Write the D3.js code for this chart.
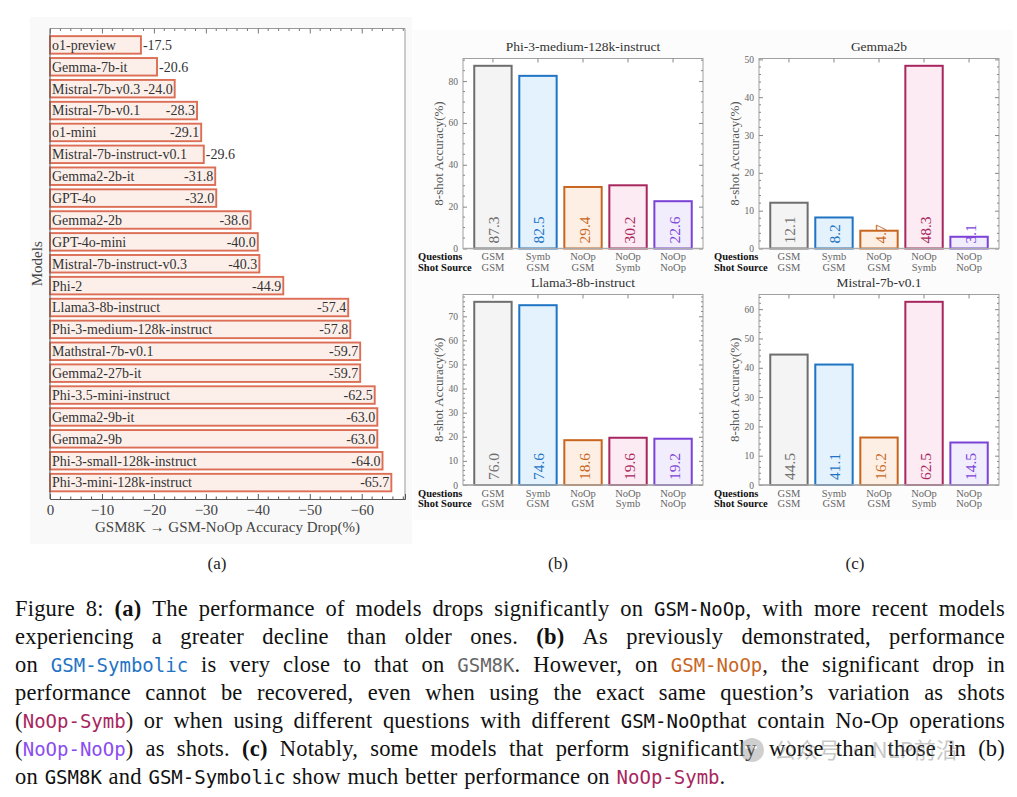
<!DOCTYPE html>
<html><head><meta charset="utf-8">
<script src="https://cdn.jsdelivr.net/npm/d3@7"></script>
<style>body{margin:0;background:#fff}svg{display:block}text{white-space:pre}</style>
</head><body>
<svg id="c" width="1017" height="797"></svg>
<script>
// ---------- DATA ----------
const models = ["o1-preview","Gemma-7b-it","Mistral-7b-v0.3","Mistral-7b-v0.1","o1-mini","Mistral-7b-instruct-v0.1","Gemma2-2b-it","GPT-4o","Gemma2-2b","GPT-4o-mini","Mistral-7b-instruct-v0.3","Phi-2","Llama3-8b-instruct","Phi-3-medium-128k-instruct","Mathstral-7b-v0.1","Gemma2-27b-it","Phi-3.5-mini-instruct","Gemma2-9b-it","Gemma2-9b","Phi-3-small-128k-instruct","Phi-3-mini-128k-instruct"];
const drops = [-17.5,-20.6,-24.0,-28.3,-29.1,-29.6,-31.8,-32.0,-38.6,-40.0,-40.3,-44.9,-57.4,-57.8,-59.7,-59.7,-62.5,-63.0,-63.0,-64.0,-65.7];
const dropTicks = [0,-10,-20,-30,-40,-50,-60];

const questions = ["GSM","Symb","NoOp","NoOp","NoOp"];
const shotSource = ["GSM","GSM","GSM","Symb","NoOp"];
const subplotTitles = ["Phi-3-medium-128k-instruct","Gemma2b","Llama3-8b-instruct","Mistral-7b-v0.1"];
const phi3Acc = [87.3,82.5,29.4,30.2,22.6];
const gemma2bAcc = [12.1,8.2,4.7,48.3,3.1];
const llama3Acc = [76.0,74.6,18.6,19.6,19.2];
const mistralAcc = [44.5,41.1,16.2,62.5,14.5];
const phi3Ticks = [0,20,40,60,80];
const gemma2bTicks = [0,10,20,30,40,50];
const llama3Ticks = [0,10,20,30,40,50,60,70];
const mistralTicks = [0,10,20,30,40,50,60];

// ---------- STYLE ----------
const SERIF = "'Liberation Serif','Times New Roman',serif";
const MONO = "'DejaVu Sans Mono',monospace";
const barStroke = ["#6e6e6e","#1f74c4","#c8661f","#a8265e","#7b42d8"];
const barFill = ["#f4f4f4","#e3f2fd","#fdefe3","#fdebf3","#f1edfd"];

const svg = d3.select('#c');
const bgLayer = svg.append('g');

// ---------- PANEL (a) ----------
const A = {left:50, right:405, top:28.5, bottom:499};
bgLayer.append('rect').attr('x',30).attr('y',17).attr('width',382).attr('height',527).attr('fill','#f9f9f9');
bgLayer.append('rect').attr('x',A.left).attr('y',A.top).attr('width',A.right-A.left).attr('height',A.bottom-A.top).attr('fill','#fff');

const xA = d3.scaleLinear().domain([0, d3.min(drops)*1.04]).range([A.left, A.right]);
const yA = d3.scaleBand().domain(models).range([A.top, A.bottom]).paddingInner(0.2).paddingOuter(0.35);

const gA = svg.append('g');
const rows = gA.selectAll('g.row').data(models.map((m,i)=>({m, v:drops[i]}))).join('g');
rows.append('rect')
  .attr('x', xA(0)).attr('y', d=>yA(d.m))
  .attr('width', d=>xA(d.v)-xA(0)).attr('height', yA.bandwidth())
  .attr('fill','#fcefea').attr('stroke','#dc6e55').attr('stroke-width',1.9);
rows.each(function(d){
  const g = d3.select(this);
  const cy = yA(d.m)+yA.bandwidth()/2;
  const name = g.append('text').attr('x', xA(0)+2).attr('y', cy).attr('dy','0.35em')
    .attr('font-family',SERIF).attr('font-size',14).attr('fill','#333').text(d.m);
  const val = g.append('text').attr('y', cy).attr('dy','0.35em')
    .attr('font-family',SERIF).attr('font-size',14).attr('fill','#333').text(d.v.toFixed(1));
  const wn = name.node().getComputedTextLength(), wv = val.node().getComputedTextLength();
  const bw = xA(d.v)-xA(0);
  if (wn + wv + 6 > bw) val.attr('x', xA(d.v)+2).attr('text-anchor','start');
  else val.attr('x', xA(d.v)-2).attr('text-anchor','end');
});

// frame
svg.append('line').attr('x1',A.left).attr('x2',A.right).attr('y1',A.top).attr('y2',A.top).attr('stroke','#999');
svg.append('line').attr('x1',A.right).attr('x2',A.right).attr('y1',A.top).attr('y2',A.bottom).attr('stroke','#999');
svg.append('line').attr('x1',A.left).attr('x2',A.left).attr('y1',A.top).attr('y2',A.bottom).attr('stroke','#555');
// axes
const axB = svg.append('g').attr('transform',`translate(0,${A.bottom})`)
  .call(d3.axisBottom(xA).tickValues(dropTicks).tickSize(-5).tickPadding(5)
    .tickFormat(d=> d===0 ? '0' : '\u2212'+Math.abs(d)));
axB.select('.domain').attr('stroke','#555');
axB.selectAll('.tick line').attr('stroke','#555');
axB.selectAll('.tick text').attr('font-family',SERIF).attr('font-size',15).attr('fill','#444');
const axT = svg.append('g').attr('transform',`translate(0,${A.top})`)
  .call(d3.axisTop(xA).tickValues(dropTicks).tickSize(-5).tickFormat(''));
axT.select('.domain').remove();
axT.selectAll('.tick line').attr('stroke','#777');
const minorA = d3.range(0, d3.min(drops)*1.04, -2).filter(v=>v%10!==0);
svg.append('g').selectAll('line').data(minorA).join('line')
  .attr('x1',d=>xA(d)).attr('x2',d=>xA(d)).attr('y1',A.bottom).attr('y2',A.bottom-2.5).attr('stroke','#555');
svg.append('g').selectAll('line').data(minorA).join('line')
  .attr('x1',d=>xA(d)).attr('x2',d=>xA(d)).attr('y1',A.top).attr('y2',A.top+2.5).attr('stroke','#777');
svg.append('text').attr('x',(A.left+A.right)/2).attr('y',532).attr('text-anchor','middle')
  .attr('font-family',SERIF).attr('font-size',15).attr('fill','#444')
  .text('GSM8K \u2192 GSM-NoOp Accuracy Drop(%)');
svg.append('text').attr('transform',`translate(42,${(A.top+A.bottom)/2}) rotate(-90)`).attr('text-anchor','middle')
  .attr('font-family',SERIF).attr('font-size',15).attr('fill','#444').text('Models');

// ---------- PANELS (b), (c) ----------
function subplot(L, T, B, title, vals, ticks) {
  const R = L + 240;
  bgLayer.append('rect').attr('x',L).attr('y',T).attr('width',R-L).attr('height',B-T).attr('fill','#fff');
  const g = svg.append('g');
  const x = d3.scaleBand().domain(d3.range(vals.length)).range([L,R]).paddingInner(0.17).paddingOuter(0.25);
  const ymax = d3.max(vals)*1.04;
  const y = d3.scaleLinear().domain([0, ymax]).range([B,T]);
  g.append('rect').attr('x',L).attr('y',T).attr('width',R-L).attr('height',B-T).attr('fill','none').attr('stroke','#a0a0a0');
  const axL = g.append('g').attr('transform',`translate(${L},0)`)
    .call(d3.axisLeft(y).tickValues(ticks).tickSize(-4).tickPadding(5).tickFormat(d3.format('d')));
  axL.select('.domain').remove();
  axL.selectAll('.tick line').attr('stroke','#888');
  axL.selectAll('.tick text').attr('font-family',SERIF).attr('font-size',9.5).attr('fill','#666');
  const axR = g.append('g').attr('transform',`translate(${R},0)`)
    .call(d3.axisRight(y).tickValues(ticks).tickSize(-4).tickFormat(''));
  axR.select('.domain').remove();
  axR.selectAll('.tick line').attr('stroke','#888');
  const step = ticks[1]-ticks[0];
  const mant = step / Math.pow(10, Math.floor(Math.log10(step)));
  const ndiv = (mant===1 || mant===5) ? 5 : 4;
  const mstep = step/ndiv;
  const minor = d3.range(0, ymax, mstep).filter(v => Math.abs(v/step - Math.round(v/step))>1e-6);
  g.append('g').selectAll('line').data(minor).join('line').attr('x1',L).attr('x2',L+2).attr('y1',d=>y(d)).attr('y2',d=>y(d)).attr('stroke','#888');
  g.append('g').selectAll('line').data(minor).join('line').attr('x1',R).attr('x2',R-2).attr('y1',d=>y(d)).attr('y2',d=>y(d)).attr('stroke','#888');
  const axTp = g.append('g').attr('transform',`translate(0,${T})`)
    .call(d3.axisTop(x).tickSize(-4).tickFormat(''));
  axTp.select('.domain').remove();
  axTp.selectAll('.tick line').attr('stroke','#888');
  const bars = g.append('g').selectAll('g').data(vals).join('g');
  bars.append('rect').attr('x',(d,i)=>x(i)).attr('y',d=>y(d)).attr('width',x.bandwidth()).attr('height',d=>B-y(d))
    .attr('fill',(d,i)=>barFill[i]).attr('stroke',(d,i)=>barStroke[i]).attr('stroke-width',2);
  bars.append('text')
    .attr('transform',(d,i)=>`translate(${x(i)+x.bandwidth()/2+1},${B-5}) rotate(-90)`)
    .attr('dominant-baseline','central').attr('text-anchor','start')
    .attr('font-family',SERIF).attr('font-size',15.5).attr('fill',(d,i)=>barStroke[i])
    .text(d=>d.toFixed(1));
  g.append('line').attr('x1',L).attr('x2',R).attr('y1',B).attr('y2',B).attr('stroke','#aaa').attr('stroke-width',1.6);
  questions.forEach((q,i)=>{
    const cx = x(i)+x.bandwidth()/2;
    g.append('text').attr('x',cx).attr('y',B+11.5).attr('text-anchor','middle')
      .attr('font-family',SERIF).attr('font-size',10.5).attr('fill','#666').text(q);
    g.append('text').attr('x',cx).attr('y',B+22).attr('text-anchor','middle')
      .attr('font-family',SERIF).attr('font-size',10.5).attr('fill','#666').text(shotSource[i]);
  });
  g.append('text').attr('x',L-45).attr('y',B+11.5).attr('font-family',SERIF).attr('font-size',10.5)
    .attr('font-weight','bold').attr('fill','#111').text('Questions');
  g.append('text').attr('x',L-45).attr('y',B+22).attr('font-family',SERIF).attr('font-size',10.5)
    .attr('font-weight','bold').attr('fill','#111').text('Shot Source');
  g.append('text').attr('x',(L+R)/2).attr('y',T-8).attr('text-anchor','middle')
    .attr('font-family',SERIF).attr('font-size',13.5).attr('fill','#333').text(title);
  g.append('text').attr('transform',`translate(${L-20},${(T+B)/2}) rotate(-90)`).attr('text-anchor','middle')
    .attr('font-family',SERIF).attr('font-size',13).attr('fill','#555').text('8-shot Accuracy(%)');
}
bgLayer.append('rect').attr('x',413).attr('y',30).attr('width',600).attr('height',490).attr('fill','#fcfcfc');
subplot(463, 58.5, 248.5, subplotTitles[0], phi3Acc, phi3Ticks);
subplot(759, 58.5, 248.5, subplotTitles[1], gemma2bAcc, gemma2bTicks);
subplot(463, 294.5, 485, subplotTitles[2], llama3Acc, llama3Ticks);
subplot(759, 294.5, 485, subplotTitles[3], mistralAcc, mistralTicks);

// panel labels
[["(a)",217],["(b)",558],["(c)",855]].forEach(([t,x])=>{
  svg.append('text').attr('x',x).attr('y',569).attr('text-anchor','middle')
    .attr('font-family',SERIF).attr('font-size',17).attr('fill','#222').text(t);
});

// ---------- CAPTION ----------
const captionLines = [
  [["r","Figure 8: "],["b","(a)"],["r"," The performance of models drops significantly on "],["m","GSM-NoOp"],["r",", with more recent models"]],
  [["r","experiencing a greater decline than older ones. "],["b","(b)"],["r"," As previously demonstrated, performance"]],
  [["r","on "],["mb","GSM-Symbolic"],["r"," is very close to that on "],["mg","GSM8K"],["r",". However, on "],["mo","GSM-NoOp"],["r",", the significant drop in"]],
  [["r","performance cannot be recovered, even when using the exact same question\u2019s variation as shots"]],
  [["r","("],["mc","NoOp-Symb"],["r",") or when using different questions with different "],["m","GSM-NoOp"],["r","that contain No-Op operations"]],
  [["r","("],["mp","NoOp-NoOp"],["r",") as shots. "],["b","(c)"],["r"," Notably, some models that perform significantly worse than those in (b)"]],
  [["r","on "],["m","GSM8K"],["r"," and "],["m","GSM-Symbolic"],["r","  show much better performance on "],["mc","NoOp-Symb"],["r","."]]
];
const monoColor = {m:"#111", mb:"#1f74c4", mg:"#666", mo:"#c8661f", mc:"#a8265e", mp:"#8a4df0"};
const capG = svg.append('g');
const CAP_SIZE = 22.5, MONO_SIZE = 19, LS = 0.2;
captionLines.forEach((segs, li) => {
  const words = []; let cur = [];
  segs.forEach(([s,t]) => {
    t.split(' ').forEach((p,i) => {
      if (i>0 && cur.length) { words.push(cur); cur = []; }
      if (p.length) cur.push([s,p]);
    });
  });
  if (cur.length) words.push(cur);
  const y = 616 + 28*li;
  const nodes = words.map(w => {
    const t = capG.append('text').attr('y', y);
    w.forEach(([s,p]) => {
      const ts = t.append('tspan').text(p);
      if (s[0]==='m') ts.attr('font-family',MONO).attr('font-size',MONO_SIZE).attr('fill',monoColor[s]);
      else ts.attr('font-family',SERIF).attr('font-size',CAP_SIZE).attr('fill','#111')
        .attr('font-weight', s==='b'?'bold':'normal').attr('letter-spacing', LS);
    });
    return t;
  });
  const widths = nodes.map(n => n.node().getComputedTextLength());
  const sum = d3.sum(widths);
  const last = li === captionLines.length-1;
  const gap = last ? CAP_SIZE*0.3 : Math.max(3, (990 - sum)/(nodes.length-1));
  let xx = 15;
  nodes.forEach((n,i) => { n.attr('x', xx); xx += widths[i] + gap; });
});

// watermark
const wm = svg.append('g').attr('opacity',0.4);
wm.append('circle').attr('cx',752).attr('cy',750).attr('r',12).attr('fill','#8a8a8a');
wm.append('circle').attr('cx',747).attr('cy',747).attr('r',2).attr('fill','#fff');
wm.append('circle').attr('cx',755).attr('cy',747).attr('r',2).attr('fill','#fff');
wm.append('text').attr('x',774).attr('y',758).attr('font-family',"'Noto Sans CJK SC',sans-serif")
  .attr('font-size',22).attr('fill','#777').text('公众号 · NLP前沿');
</script>
</body></html>
